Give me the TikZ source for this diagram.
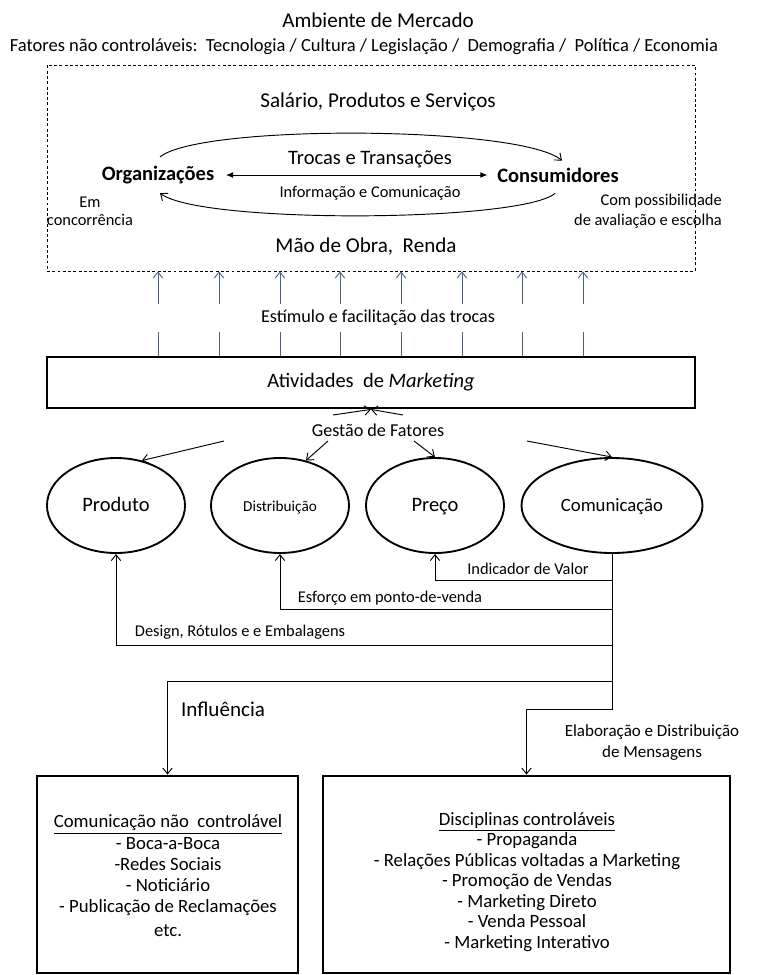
\documentclass[tikz,border=0pt]{standalone}
\usepackage{fontspec}
\setmainfont{Carlito}
\usepackage{tikz}
\usetikzlibrary{arrows.meta, positioning, calc, shapes.geometric}
\definecolor{slateblue}{RGB}{75,95,135}
\newcommand{\fsz}[2]{\fontsize{#1}{#2}\selectfont}

\begin{document}
\begin{tikzpicture}[x=0.03cm, y=-0.03cm,
  tip/.style={-{Straight Barb[length=5pt, width=8pt]}, line width=0.8pt},
  oval/.style={ellipse, draw, line width=1.6pt, minimum height=2.85cm, inner sep=0pt, text height=2.4ex, text depth=0.25ex},
  frame/.style={draw, line width=2.4pt, inner sep=0pt}]
  \useasboundingbox (0,0) rectangle (757,975);

  % market environment
  \node[font=\fsz{18}{20}] (title) at (378,20) {Ambiente de Mercado};
  \node[font=\fsz{15.8}{17}] (fatores) at (364,47) {Fatores não controláveis:\ \ Tecnologia / Cultura / Legislação /\ \ Demografia /\ \ Política / Economia};
  \node[draw, dash pattern=on 2.5pt off 2pt, line width=0.7pt, minimum width=19.44cm, minimum height=6.18cm] (env) at (371,168) {};
  \node[font=\fsz{18}{20}] (pay) at (378,102) {Salário, Produtos e Serviços};
  \node[font=\bfseries\fsz{17.5}{20}] (org) at (158,175) {Organizações};
  \node[font=\bfseries\fsz{17.5}{20}] (cons) at (558,175) {Consumidores};
  \node[font=\fsz{17.5}{20}] (trocas) at (370,159) {Trocas e Transações};
  \node[font=\fsz{14}{16}] (info) at (370,193) {Informação e Comunicação};
  \node[font=\fsz{14}{15.5}, align=center] (conc) at (90,211) {Em\\concorrência};
  \node[font=\fsz{14}{17}, align=right, anchor=east, inner sep=0pt] (escolha) at (722,211) {Com possibilidade\\de avaliação e escolha};
  \node[font=\fsz{18}{20}] (renda) at (366,247) {Mão de Obra,\ \ Renda};

  \draw[tip] ($(org.north)+(2,-5)$) .. controls +(40,-33) and +(-42,-35) .. ($(cons.north)+(4,-3)$);
  \draw[tip] ($(cons.south)+(-3,7)$) .. controls +(-35,29) and +(40,31) .. ($(org.south)+(2,5)$);
  \draw[{Latex[length=6pt,width=5pt]}-{Latex[length=6pt,width=5pt]}, line width=0.8pt, shorten <=6.5pt, shorten >=5pt] (org) -- (cons);

  % marketing activities
  \node[font=\fsz{15.5}{17}, minimum height=0.84cm, inner sep=0pt] (stim) at (378,318) {Estímulo e facilitação das trocas};
  \node[frame, minimum width=19.44cm, minimum height=1.53cm, font=\fsz{17.5}{20}] (mkt) at (371,382.5) {Atividades\ \ de \textit{Marketing}};
  \foreach \x in {158,219,280,340,401,462,522,583} {
    \draw[slateblue, line width=0.8pt] (mkt.north -| \x,0) -- (\x,0 |- stim.south);
    \draw[tip, slateblue] (\x,0 |- stim.north) -- (env.south -| \x,0);
  }

  % marketing mix
  \node[font=\fsz{15.5}{17}] (gestao) at (378,430) {Gestão de Fatores};
  \coordinate (gl) at (333,415);
  \coordinate (gr) at (403,415);
  \draw[tip] (gl) -- (mkt.south);
  \draw[tip] (gr) -- (mkt.south);

  \node[oval, minimum width=4.14cm, font=\fsz{17.5}{20}] (prod) at (116,505.5) {Produto};
  \node[oval, minimum width=4.14cm, font=\fsz{13}{15}] (dist) at (280,505.5) {Distribuição};
  \node[oval, minimum width=4.14cm, font=\fsz{17.5}{20}] (preco) at (435,505.5) {Preço};
  \node[oval, minimum width=5.43cm, font=\fsz{16}{18}] (com) at (612,505.5) {Comunicação};

  \coordinate (g1) at (224,441);
  \coordinate (g2) at (328,441);
  \coordinate (g3) at (414,441);
  \coordinate (g4) at (527,441);
  \draw[tip] (g1) -- (prod.60);
  \draw[tip] (g2) -- (dist.60);
  \draw[tip] (g3) -- (preco.north);
  \draw[tip] (g4) -- (com.north);

  % communication
  \node[frame, minimum width=7.83cm, minimum height=5.91cm] (unc) at (167.5,874.5) {};
  \node[frame, minimum width=12.21cm, minimum height=5.91cm] (ctl) at (526.5,874.5) {};

  \draw[tip] (com.south) |- (preco.south |- 0,580) -- (preco.south);
  \draw[tip] (com.south) |- (dist.south |- 0,609) -- (dist.south);
  \draw[tip] (com.south) |- (prod.south |- 0,645) -- (prod.south);
  \draw[tip] (com.south) |- (unc.north |- 0,681) -- (unc.north);
  \draw[tip] (com.south) |- (ctl.north |- 0,709) -- (ctl.north);

  \node[font=\fsz{14}{16}] (valor) at (528,569) {Indicador de Valor};
  \node[font=\fsz{14}{16}] (pdv) at (390,598) {Esforço em ponto-de-venda};
  \node[font=\fsz{14}{16}] (emb) at (240,632) {Design, Rótulos e e Embalagens};
  \node[font=\fsz{18}{20}] (infl) at (223,709) {Influência};
  \node[font=\fsz{14.5}{18}, align=center] (msg) at (652,743) {Elaboração e Distribuição\\de Mensagens};

  \node[font=\fsz{16}{18}, align=center] (unctxt) at (168,876) {\underline{Comunicação não\ \ controlável}\\- Boca-a-Boca\\-Redes Sociais\\- Noticiário\\- Publicação de Reclamações\\[3pt]etc.};
  \node[font=\fsz{16}{17.5}, align=center] (ctltxt) at (527,882) {\underline{Disciplinas controláveis}\\- Propaganda\\- Relações Públicas voltadas a Marketing\\- Promoção de Vendas\\- Marketing Direto\\- Venda Pessoal\\- Marketing Interativo};
\end{tikzpicture}
\end{document}
